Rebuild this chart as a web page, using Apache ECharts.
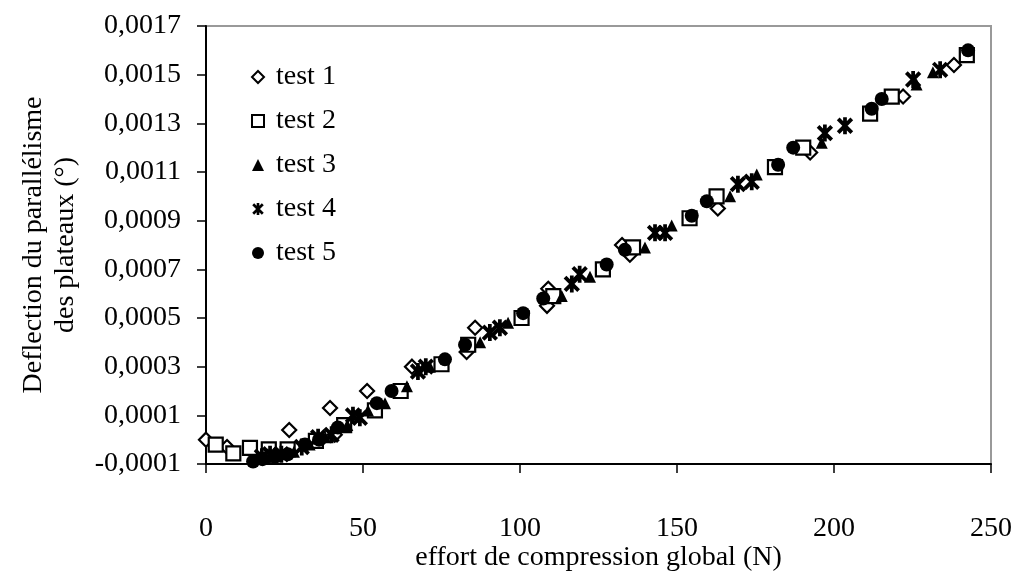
<!DOCTYPE html>
<html>
<head>
<meta charset="utf-8">
<script src="https://cdn.jsdelivr.net/npm/echarts@6/dist/echarts.min.js"></script>
<style>
  html, body { margin: 0; padding: 0; background: #fff; }
  #main { width: 1015px; height: 576px; }
</style>
</head>
<body>
<div id="main"></div>
<script>
// données : [effort (N), deflection (°)]
var test1 = [[0, 0], [6.7, -0.00003], [26.5, 0.00004], [39.5, 0.00013], [41, 0.00002], [51.3, 0.0002],
    [65.6, 0.0003], [83, 0.00036], [85.7, 0.00046], [108.6, 0.00055], [109, 0.00062], [132.5, 0.0008],
    [135, 0.00076], [163, 0.00095], [192.4, 0.00118], [222, 0.00141], [238.2, 0.00154]];
var test2 = [[3.1, -0.00002], [8.7, -0.000056], [14, -0.000034], [20, -0.00004], [26, -0.00004],
    [35, -0.000005], [44, 0.00006], [53.8, 0.00012], [62, 0.0002], [75, 0.00031], [83.5, 0.00039],
    [100.5, 0.0005], [110.6, 0.00059], [126.4, 0.0007], [136, 0.00079], [154, 0.00091], [162.6, 0.001],
    [181.2, 0.00112], [190.2, 0.0012], [211.5, 0.00134], [218.4, 0.00141], [242.3, 0.00158]];
var test3 = [[19, -0.00007], [23, -0.00006], [28, -0.00005], [33, -0.00002], [38, 0.00001], [45, 0.00006],
    [51.6, 0.00012], [57, 0.00015], [64, 0.00022], [71.3, 0.0003], [87.3, 0.0004], [96.2, 0.00048],
    [113.3, 0.00059], [122.3, 0.00067], [139.8, 0.00079], [148.3, 0.00088], [166.9, 0.001],
    [175.4, 0.00109], [196.1, 0.00122], [226.3, 0.00146], [231.5, 0.00151]];
var test4 = [[17.8, -0.00007], [20.4, -0.00006], [24, -0.00006], [30.5, -0.00003], [35.7, 0.00001],
    [40, 0.00002], [46.8, 0.0001], [49, 0.00009], [67.5, 0.00028], [70, 0.0003], [90.4, 0.00044],
    [93.6, 0.00046], [116.5, 0.00064], [119, 0.00068], [143, 0.00085], [146.2, 0.00085],
    [169.4, 0.00105], [173.8, 0.00106], [197.1, 0.00126], [203.5, 0.00129], [225.2, 0.00148],
    [233.8, 0.00152]];
var test5 = [[15, -0.00009], [18, -0.00008], [22, -0.00007], [26, -0.00006], [31.5, -0.00002],
    [36, 0], [42, 0.00005], [54.4, 0.00015], [59.1, 0.0002], [76.1, 0.00033], [82.5, 0.00039],
    [101, 0.00052], [107.4, 0.00058], [127.6, 0.00072], [133.4, 0.00078], [154.7, 0.00092],
    [159.5, 0.00098], [182.2, 0.00113], [187, 0.0012], [212, 0.00136], [215.2, 0.0014],
    [242.7, 0.0016]];

var seriesNames = ['test 1', 'test 2', 'test 3', 'test 4', 'test 5'];
var xTicks = [0, 50, 100, 150, 200, 250];
var yTicks = [-0.0001, 0.0001, 0.0003, 0.0005, 0.0007, 0.0009, 0.0011, 0.0013, 0.0015, 0.0017];

var police = 'Liberation Serif';
var taillePolice = 28;
// astérisque : barre verticale + croix
var asterisk = 'path://M3.9 0 L6.1 0 L6.1 10 L3.9 10 Z M0.2 1.8 L1.8 0.2 L9.8 8.2 L8.2 9.8 Z M8.2 0.2 L9.8 1.8 L1.8 9.8 L0.2 8.2 Z';

var myChart = echarts.init(document.getElementById('main'));

function nuage(nom, data, symbole, taille, creux) {
    return {
        name: nom,
        type: 'scatter',
        data: data,
        symbol: symbole,
        symbolSize: taille,
        symbolKeepAspect: true,
        itemStyle: creux
            ? { color: '#fff', borderColor: '#000', borderWidth: 2.2, opacity: 1 }
            : { color: '#000', borderWidth: 0, opacity: 1 },
        emphasis: { disabled: true }
    };
}

var option = {
    animation: false,
    backgroundColor: '#fff',
    textStyle: { fontFamily: police },
    grid: {
        left: 206, right: 24, top: 26, bottom: 112,
        outerBoundsMode: 'none',
        containLabel: false,
        show: true, borderColor: '#999', borderWidth: 2, backgroundColor: 'transparent'
    },
    legend: {
        orient: 'vertical',
        left: 246, top: 58,
        itemGap: 16,
        itemWidth: 12, itemHeight: 12,
        textStyle: { fontFamily: police, fontSize: taillePolice, color: '#000', padding: [0, 0, 0, 7] },
        data: seriesNames
    },
    xAxis: {
        type: 'value',
        min: 0, max: 250, interval: 50,
        name: 'effort de compression global (N)',
        nameLocation: 'middle',
        nameGap: 80,
        nameMoveOverlap: false,
        nameTextStyle: { fontFamily: police, fontSize: taillePolice, color: '#000' },
        axisLine: { onZero: false, lineStyle: { color: '#000', width: 2 } },
        axisTick: { show: true, inside: false, length: 9, lineStyle: { color: '#000', width: 1.5 },
            customValues: xTicks },
        axisLabel: { margin: 51, fontFamily: police, fontSize: taillePolice, color: '#000', customValues: xTicks },
        splitLine: { show: false }
    },
    yAxis: {
        type: 'value',
        min: -0.0001, max: 0.0017, interval: 0.0001,
        name: 'Deflection du parallélisme\ndes plateaux (°)',
        nameLocation: 'middle',
        nameGap: 124,
        nameRotate: 90,
        nameMoveOverlap: false,
        nameTextStyle: { fontFamily: police, fontSize: taillePolice, color: '#000', lineHeight: 32 },
        axisLine: { onZero: false, lineStyle: { color: '#000', width: 2 } },
        axisTick: { show: true, inside: false, length: 9, lineStyle: { color: '#000', width: 1.5 },
            customValues: yTicks },
        axisLabel: {
            margin: 25, fontFamily: police, fontSize: taillePolice, color: '#000', customValues: yTicks,
            formatter: function (v) { return v.toFixed(4).replace('.', ','); }
        },
        splitLine: { show: false }
    },
    series: [
        nuage('test 1', test1, 'diamond', 14, true),
        nuage('test 2', test2, 'rect', 14, true),
        nuage('test 3', test3, 'triangle', 12, false),
        nuage('test 4', test4, asterisk, 17, false),
        nuage('test 5', test5, 'circle', 14, false)
    ]
};
myChart.setOption(option);
</script>
</body>
</html>
